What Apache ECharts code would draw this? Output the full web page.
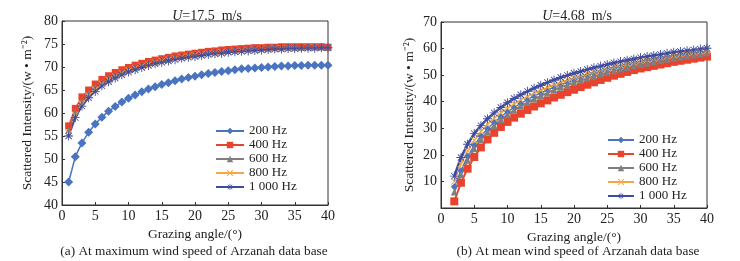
<!DOCTYPE html>
<html>
<head>
<meta charset="utf-8">
<script src="https://cdn.jsdelivr.net/npm/echarts@6/dist/echarts.min.js"></script>
<style>
  html, body { margin: 0; padding: 0; background: #fff; }
  #chart { width: 740px; height: 261px; }
</style>
</head>
<body>
<div id="chart"></div>
<script>
// grazing angles (degrees)
var anglesA = [1,2,3,4,5,6,7,8,9,10,11,12,13,14,15,16,17,18,19,20,21,22,23,24,25,26,27,28,29,30,31,32,33,34,35,36,37,38,39,40];
var anglesB = [2,3,4,5,6,7,8,9,10,11,12,13,14,15,16,17,18,19,20,21,22,23,24,25,26,27,28,29,30,31,32,33,34,35,36,37,38,39,40];
var names = ['200 Hz', '400 Hz', '600 Hz', '800 Hz', '1 000 Hz'];

// (a) U = 17.5 m/s
var a200 = [45.0,50.5,53.5,55.8,57.6,59.1,60.4,61.4,62.4,63.2,63.9,64.6,65.2,65.7,66.2,66.6,67.0,67.4,67.7,68.0,68.3,68.6,68.8,69.0,69.2,69.4,69.6,69.7,69.8,69.9,70.0,70.1,70.2,70.2,70.3,70.3,70.4,70.4,70.4,70.4];
var a400 = [57.2,61.0,63.5,65.0,66.3,67.3,68.1,68.8,69.4,69.9,70.4,70.8,71.2,71.5,71.8,72.1,72.4,72.6,72.8,73.0,73.2,73.4,73.5,73.7,73.8,73.9,74.0,74.1,74.2,74.2,74.3,74.3,74.4,74.4,74.4,74.4,74.4,74.4,74.4,74.3];
var a600 = [56.3,60.2,62.6,64.3,65.6,66.7,67.5,68.3,68.9,69.5,70.0,70.4,70.8,71.2,71.5,71.8,72.1,72.3,72.5,72.7,72.9,73.1,73.2,73.4,73.5,73.6,73.7,73.8,73.9,74.0,74.0,74.1,74.1,74.2,74.2,74.2,74.3,74.3,74.3,74.3];
var a800 = [55.6,59.6,62.0,63.8,65.1,66.3,67.2,67.9,68.6,69.2,69.7,70.1,70.5,70.9,71.2,71.5,71.8,72.1,72.3,72.5,72.7,72.9,73.0,73.2,73.3,73.4,73.5,73.6,73.7,73.8,73.9,74.0,74.0,74.1,74.1,74.1,74.2,74.2,74.2,74.2];
var a1000 = [55.0,59.0,61.5,63.3,64.7,65.9,66.8,67.6,68.3,68.9,69.4,69.9,70.3,70.7,71.0,71.3,71.6,71.9,72.1,72.3,72.5,72.7,72.9,73.0,73.2,73.3,73.4,73.5,73.6,73.7,73.8,73.9,73.9,74.0,74.0,74.1,74.1,74.1,74.2,74.2];

// (b) U = 4.68 m/s
var b200 = [8.0,14.0,19.5,23.5,27.0,29.8,32.2,34.3,36.2,37.9,39.4,40.8,42.1,43.3,44.4,45.4,46.4,47.3,48.2,49.0,49.8,50.5,51.2,51.9,52.5,53.1,53.7,54.2,54.7,55.2,55.7,56.1,56.5,56.9,57.3,57.6,57.9,58.2,58.5];
var b400 = [2.5,9.5,14.8,19.2,22.8,25.8,28.3,30.5,32.4,34.0,35.5,36.9,38.2,39.4,40.5,41.6,42.6,43.6,44.5,45.5,46.4,47.3,48.2,49.0,49.8,50.5,51.2,51.9,52.5,53.0,53.5,54.0,54.5,55.0,55.4,55.8,56.2,56.6,57.0];
var b600 = [6.0,12.5,18.0,22.3,25.8,28.6,31.0,33.2,35.1,36.8,38.3,39.7,41.0,42.2,43.3,44.4,45.4,46.3,47.2,48.0,48.8,49.6,50.3,51.0,51.7,52.3,52.9,53.5,54.0,54.5,55.0,55.5,56.0,56.4,56.8,57.2,57.6,58.0,58.4];
var b800 = [10.0,16.5,21.5,25.5,28.8,31.5,33.8,35.8,37.6,39.2,40.7,42.0,43.2,44.3,45.4,46.4,47.3,48.2,49.0,49.8,50.5,51.2,51.9,52.5,53.1,53.7,54.3,54.8,55.3,55.8,56.3,56.7,57.1,57.5,57.9,58.3,58.6,58.9,59.2];
var b1000 = [12.0,19.0,24.0,28.0,31.0,33.6,35.8,37.8,39.6,41.2,42.6,43.9,45.1,46.2,47.2,48.2,49.1,49.9,50.7,51.4,52.1,52.8,53.4,54.0,54.6,55.1,55.6,56.1,56.6,57.0,57.4,57.8,58.2,58.6,58.9,59.2,59.5,59.8,60.1];

var colors = ['#4a74c0', '#e8432d', '#7f7f7f', '#f4a742', '#3d4ca0'];
var asterisk = 'path://M-1,-10L1,-10L1,10L-1,10Z M-10,-1L10,-1L10,1L-10,1Z M-7.7,-6.3L-6.3,-7.7L7.7,6.3L6.3,7.7Z M6.3,-7.7L7.7,-6.3L-6.3,7.7L-7.7,6.3Z';
var cross = 'path://M-7.7,-6.3L-6.3,-7.7L7.7,6.3L6.3,7.7Z M6.3,-7.7L7.7,-6.3L-6.3,7.7L-7.7,6.3Z';
var symbols = ['diamond', 'rect', 'triangle', cross, asterisk];
var sizesA = [9, 7, 6, 7, 9];
var sizesB = [7, 8, 7, 7, 9];
var widthsA = [1.5, 1.5, 1.5, 1.5, 2];
var widthsB = [1.5, 2, 2, 1.5, 2.5];

function pairs(xs, ys) {
    return xs.map(function (x, i) { return [x, ys[i]]; });
}

var serif = 'Liberation Serif';
var dataA = [a200, a400, a600, a800, a1000];
var dataB = [b200, b400, b600, b800, b1000];
var series = [];
names.forEach(function (n, i) {
    series.push({
        name: n, type: 'line', xAxisIndex: 0, yAxisIndex: 0,
        data: pairs(anglesA, dataA[i]),
        symbol: symbols[i], symbolSize: sizesA[i], showAllSymbol: true,
        lineStyle: { color: colors[i], width: widthsA[i] },
        itemStyle: { color: colors[i] },
        animation: false
    });
});
names.forEach(function (n, i) {
    series.push({
        name: n, type: 'line', xAxisIndex: 1, yAxisIndex: 1,
        data: pairs(anglesB, dataB[i]),
        symbol: symbols[i], symbolSize: sizesB[i], showAllSymbol: true,
        lineStyle: { color: colors[i], width: widthsB[i] },
        itemStyle: { color: colors[i] },
        animation: false
    });
});

var axisLabel = { color: '#222', fontFamily: serif, fontSize: 14, margin: 4 };
var axisLine = { show: true, lineStyle: { color: '#333', width: 1 } };
var axisTick = { show: true, inside: true, length: 3, lineStyle: { color: '#333' } };
var nameStyle = { color: '#222', fontFamily: serif, fontSize: 13.5 };
var yName = 'Scattered Intensity/(w • m⁻²)';

var legendText = { color: '#222', fontFamily: serif, fontSize: 13, lineHeight: 14 };
var titleStyle = { fontFamily: serif, fontSize: 14, fontWeight: 'normal', color: '#222',
                   rich: { i: { fontFamily: serif, fontSize: 14, fontStyle: 'italic', color: '#222' } } };
var captionStyle = { fontFamily: serif, fontSize: 13.3, fontWeight: 'normal', color: '#222' };

var mychart = echarts.init(document.getElementById('chart'));
var option = {
    backgroundColor: '#fff',
    title: [
        { text: '{i|U}=17.5  m/s', left: 202, top: 4, textAlign: 'center', textStyle: titleStyle },
        { text: '{i|U}=4.68  m/s', left: 572, top: 4, textAlign: 'center', textStyle: titleStyle },
        { text: '(a) At maximum wind speed of Arzanah data base', left: 189, top: 240, textAlign: 'center',
          textStyle: captionStyle },
        { text: '(b) At mean wind speed of Arzanah data base', left: 573, top: 240, textAlign: 'center',
          textStyle: captionStyle }
    ],
    legend: [
        { data: names, orient: 'vertical', left: 215, top: 124, itemWidth: 28, itemHeight: 8, itemGap: 0,
          textStyle: legendText, padding: 0, selectedMode: false },
        { data: names, orient: 'vertical', left: 607, top: 133, itemWidth: 26, itemHeight: 8, itemGap: 0,
          textStyle: legendText, padding: 0, selectedMode: false }
    ],
    grid: [
        { left: 62, right: 412, top: 21, bottom: 56, show: true, borderColor: '#333', borderWidth: 1 },
        { left: 441, right: 33, top: 22, bottom: 53, show: true, borderColor: '#333', borderWidth: 1 }
    ],
    xAxis: [
        { type: 'value', gridIndex: 0, min: 0, max: 40, interval: 5,
          name: 'Grazing angle/(°)', nameLocation: 'middle', nameGap: 17, nameTextStyle: nameStyle,
          axisLabel: axisLabel, axisLine: axisLine, axisTick: axisTick, splitLine: { show: false } },
        { type: 'value', gridIndex: 1, min: 0, max: 40, interval: 5,
          name: 'Grazing angle/(°)', nameLocation: 'middle', nameGap: 15, nameTextStyle: nameStyle,
          axisLabel: axisLabel, axisLine: axisLine, axisTick: axisTick, splitLine: { show: false } }
    ],
    yAxis: [
        { type: 'value', gridIndex: 0, min: 40, max: 80, interval: 5,
          name: yName, nameLocation: 'middle', nameGap: 28, nameTextStyle: nameStyle,
          axisLabel: axisLabel, axisLine: axisLine, axisTick: axisTick, splitLine: { show: false } },
        { type: 'value', gridIndex: 1, min: 0, max: 70, interval: 10,
          name: yName, nameLocation: 'middle', nameGap: 25, nameTextStyle: nameStyle,
          axisLabel: Object.assign({}, axisLabel, { formatter: function (v) { return v === 0 ? '' : v; } }),
          axisLine: axisLine, axisTick: axisTick, splitLine: { show: false } }
    ],
    series: series
};
mychart.setOption(option);
</script>
</body>
</html>
